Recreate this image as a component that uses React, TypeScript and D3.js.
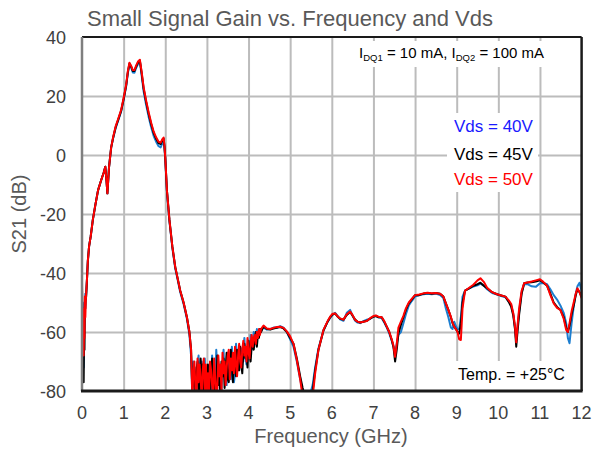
import React, { useEffect, useRef } from "react";
import * as d3 from "d3";

const WIDTH = 593;
const HEIGHT = 453;

const TITLE = "Small Signal Gain vs. Frequency and Vds";
const X_LABEL = "Frequency (GHz)";
const Y_LABEL = "S21 (dB)";
const xTickValues = [0, 1, 2, 3, 4, 5, 6, 7, 8, 9, 10, 11, 12];
const yTickValues = [40, 20, 0, -20, -40, -60, -80];

const legendLabels = ["Vds = 40V", "Vds = 45V", "Vds = 50V"];
const tempLabel = "Temp. = +25°C";

// Frequency grid shared by all three sweeps (GHz)
const freqGHz = [
  // DC region
  0, 0.01, 0.02, 0.03, 0.04, 0.05, 0.06, 0.07, 0.08, 0.09, 0.1, 0.12,
  // passband
  0.14, 0.17, 0.21, 0.26, 0.32, 0.385, 0.45, 0.52, 0.56, 0.59,
  0.61, 0.65, 0.7, 0.75, 0.81, 0.87, 0.94, 1.0, 1.06, 1.1,
  1.14, 1.18, 1.22, 1.26, 1.3, 1.35, 1.39, 1.43, 1.48, 1.54,
  1.6, 1.66, 1.72, 1.78, 1.84, 1.89, 1.93, 1.96, 1.98, 2.0,
  2.04, 2.1, 2.17, 2.24, 2.3, 2.36, 2.44, 2.52, 2.58, 2.62,
  // noise floor
  2.65, 2.675, 2.7, 2.725, 2.75, 2.775, 2.8, 2.825, 2.85, 2.875, 2.9, 2.925, 2.95, 2.975, 3.0,
  3.025, 3.05, 3.075, 3.1, 3.125, 3.15, 3.175, 3.2, 3.225, 3.25, 3.275, 3.3, 3.325, 3.35, 3.375,
  3.4, 3.425, 3.45, 3.475, 3.5, 3.525, 3.55, 3.575, 3.6, 3.625, 3.65, 3.675, 3.7, 3.725, 3.75,
  3.775, 3.8, 3.825, 3.85, 3.875, 3.9, 3.925, 3.95, 3.975, 4.0, 4.025, 4.05, 4.075, 4.1, 4.125,
  4.15, 4.175, 4.2, 4.225, 4.25, 4.275, 4.3,
  // stopband
  4.36, 4.44, 4.52, 4.6, 4.68, 4.76, 4.84, 4.92, 5.0, 5.08,
  5.16, 5.24, 5.3, 5.36, 5.42, 5.48, 5.54, 5.6, 5.68, 5.8,
  5.9, 5.96, 6.02, 6.08, 6.14, 6.2, 6.28, 6.36, 6.44, 6.5,
  6.56, 6.62, 6.68, 6.76, 6.84, 6.92, 7.0, 7.06, 7.12, 7.2,
  7.26, 7.32, 7.38, 7.44, 7.48, 7.52, 7.56, 7.6, 7.66, 7.72,
  7.78, 7.85, 7.92, 8.0, 8.1, 8.2, 8.3, 8.4, 8.5, 8.6,
  8.68, 8.74, 8.8, 8.86, 8.9, 8.94, 8.98, 9.02, 9.06, 9.1,
  9.14, 9.2, 9.3, 9.4, 9.5, 9.57, 9.65, 9.73, 9.85, 9.97,
  10.07, 10.17, 10.25, 10.31, 10.36, 10.4, 10.43, 10.46, 10.5, 10.56,
  10.62, 10.7, 10.8, 10.9, 11.0, 11.08, 11.17, 11.25, 11.33, 11.41,
  11.49, 11.57, 11.63, 11.67, 11.71, 11.76, 11.81, 11.86, 11.9, 11.95,
  12.0,
];

// S21 (dB), Vds = 40 V
const s21Vds40 = [
  -44, -58, -50, -66, -72, -60, -56, -50, -47, -49, -47, -42,
  -36, -31, -27.5, -22, -17, -12, -9, -6, -4, -9,
  -13, -4, 2.5, 5.8, 9.2, 11.7, 14.7, 18.7, 23.2, 27.6,
  30.6, 29.6, 28, 27.9, 29.5, 31, 31.6, 27.3, 21.6, 17,
  13, 9.5, 6.5, 4.5, 3, 2.6, 4, 4.7, 2.5, -1.5,
  -12.5, -22.5, -31.5, -38.5, -42.5, -46.5, -50.5, -55.5, -61, -68,
  -82, -70, -78, -80, -72, -71, -68, -80, -82, -70, -76, -75, -69, -82, -72,
  -82, -80, -71, -82, -68, -74, -78, -79, -66, -73, -70, -77, -82, -80, -72,
  -66, -75, -73, -78, -67, -69, -74, -76, -65, -71, -77, -74, -64, -70, -67,
  -72, -65, -66, -69, -70, -62, -68, -71, -67, -64, -69, -61, -66, -63, -60,
  -63, -64, -59, -62, -60, -59, -59,
  -58.5, -59.2, -59, -58.5, -58.5, -58, -58.5, -60, -62.5, -65,
  -70, -76, -80, -82, -82, -81, -78, -72, -65.5, -59.5,
  -56.5, -55.2, -54.2, -53.5, -54.5, -55.7, -56.2, -53.5, -52.5, -54.5,
  -56.2, -56.8, -57, -56.3, -55.8, -55.5, -54.8, -54.5, -55, -55.3,
  -56.8, -58.5, -60.5, -63, -65, -67, -64, -61, -60, -57,
  -54, -51, -49.5, -48, -47.5, -47.2, -47, -47.2, -47, -47.5,
  -48.5, -52, -55, -58.5, -59, -56.5, -58, -59, -59, -55,
  -48, -46, -45.2, -44.6, -44.2, -43.6, -44.3, -45.5, -46.8, -47.3,
  -47.8, -48.2, -49.6, -51, -54, -58.5, -63, -58.5, -53, -46.5,
  -43.8, -43.8, -44.5, -44.7, -43.5, -43.4, -43.8, -45.5, -47.5, -49,
  -51, -53.5, -57, -62, -63.8, -57, -51.4, -47, -44.5, -43.3,
  -46,
];

// S21 (dB), Vds = 45 V
const s21Vds45 = [
  -45, -60, -52, -70, -77, -62, -66, -50, -52, -49, -48, -42,
  -36, -31, -27.5, -22, -17, -12, -9, -6, -4, -9,
  -13, -4, 2.5, 6, 9.5, 12, 15, 19, 23.5, 28,
  31, 30, 28.5, 28.5, 30, 31.5, 32, 28, 22.5, 18,
  14, 10.5, 7.5, 5.5, 4, 3.7, 5, 5.6, 3, -1,
  -12, -22, -31, -38, -42, -46, -50, -55, -60, -66,
  -80, -76, -72, -82, -74, -70, -82, -79, -69, -78, -71, -82, -72, -77, -82,
  -71, -78, -82, -75, -69, -77, -74, -82, -80, -68, -78, -73, -82, -70, -75,
  -69, -79, -72, -67, -76, -77, -70, -66, -72, -77, -68, -71, -75, -66, -73,
  -73, -65, -71, -74, -67, -64, -69, -66, -72, -63, -68, -70, -65, -62, -66,
  -63, -60, -65, -61, -62, -59, -60,
  -58.2, -59, -59.2, -58.8, -58.6, -58.3, -58.8, -60, -62, -64,
  -69, -75, -79, -82, -82, -82, -80, -73, -66, -59.5,
  -56.5, -55, -54, -53.8, -54.8, -55.5, -55.8, -54.2, -53.2, -54.5,
  -55.8, -56.5, -56.8, -56.5, -56.2, -55.5, -54.8, -54.6, -55, -55,
  -56.5, -58.2, -60, -62.7, -65, -70, -66, -60.5, -57.5, -55,
  -52.5, -50.3, -49, -47.5, -47.5, -47, -46.8, -47, -46.8, -47,
  -48, -50.3, -52.5, -55, -57, -58.2, -59, -60, -60.5, -57,
  -50, -46, -45.2, -44.3, -43.8, -43.3, -44.3, -45.2, -46.5, -47.2,
  -47.6, -48, -49.8, -51.5, -54.5, -59, -65, -60, -54, -47,
  -43.5, -43.2, -43.1, -42.9, -42.5, -43.2, -44.3, -47, -50, -51.5,
  -52.5, -55, -58.5, -60, -58, -54, -51, -47.5, -45.5, -46.5,
  -48,
];

// S21 (dB), Vds = 50 V
const s21Vds50 = [
  -43, -55, -65, -52, -68, -58, -62, -48, -55, -50, -47, -42,
  -36, -31, -27.5, -22, -17, -12, -9, -6, -4, -9,
  -13, -4, 2.5, 6.2, 9.8, 12.3, 15.3, 19.3, 23.8, 28.3,
  31.3, 30.2, 28.8, 28.8, 30.3, 31.8, 32.3, 28.5, 23, 18.5,
  14.5, 11, 8, 6, 4.5, 4.2, 5.4, 5.9, 3.3, -0.8,
  -12, -22, -31, -38, -42, -46, -50, -55, -60, -66,
  -82, -74, -70, -79, -82, -69, -77, -71, -76, -82, -73, -69, -80, -71, -82,
  -74, -82, -70, -73, -78, -81, -69, -76, -82, -79, -68, -75, -71, -80, -67,
  -74, -70, -78, -72, -68, -66, -76, -69, -73, -67, -74, -65, -71, -75, -68,
  -64, -70, -72, -66, -63, -68, -65, -70, -62, -67, -69, -64, -61, -65, -62,
  -61, -64, -60, -62, -59, -61, -59,
  -57.8, -58.8, -59, -58.6, -58.3, -58.2, -58.6, -59.8, -61.5, -64,
  -69.5, -76, -82, -82, -82, -82, -82, -74, -66, -59.3,
  -56.3, -54.8, -53.8, -53.7, -54.7, -55.4, -55.8, -54, -53.1, -54.3,
  -55.9, -56.5, -56.8, -56.5, -56.3, -55.3, -54.6, -54.4, -54.8, -55,
  -56.3, -58.2, -60, -62.5, -64.5, -68.4, -64, -58.5, -56.5, -54.5,
  -52, -50, -48.8, -47.5, -47.3, -46.9, -46.7, -46.9, -46.8, -47,
  -48, -50.3, -52.5, -54.8, -56.8, -58.2, -59, -60, -62.5, -62.7,
  -52, -46, -45, -44, -42.5, -41.8, -43, -45, -46.5, -47.2,
  -47.6, -48, -49.3, -50.5, -53.7, -58, -63.5, -58, -52, -46,
  -43.5, -43.2, -42.9, -42.5, -42.1, -43, -44.3, -47.5, -50.3, -51.8,
  -52.5, -55.5, -59.3, -60, -57, -53, -50, -47, -45.2, -46.5,
  -48.5,
];

const seriesValues = [s21Vds40, s21Vds45, s21Vds50];
const seriesColors = ["#1c7ed0", "#000000", "#ff0000"];
const legendColors = ["#1a1aff", "#000000", "#ff0000"];

const FONT = "'Liberation Sans', Arial, Helvetica, sans-serif";

const plot = { left: 82, right: 581.6, top: 37, bottom: 391 };

const xScale = d3.scaleLinear().domain([0, 12]).range([plot.left, plot.right]);
const yScale = d3.scaleLinear().domain([-80, 40]).range([plot.bottom, plot.top]);

export default function App() {
  const gridRef = useRef<SVGGElement | null>(null);

  // grid via d3 axes with full-length ticks
  useEffect(() => {
    if (!gridRef.current) return;
    const g = d3.select(gridRef.current);
    g.selectAll("*").remove();

    const gx = g
      .append("g")
      .attr("transform", `translate(0,${plot.bottom})`)
      .call(
        d3
          .axisBottom(xScale)
          .tickValues(xTickValues.slice(1, -1))
          .tickSize(-(plot.bottom - plot.top))
          .tickFormat(() => "")
      );
    const gy = g
      .append("g")
      .attr("transform", `translate(${plot.left},0)`)
      .call(
        d3
          .axisLeft(yScale)
          .tickValues(yTickValues.slice(1, -1))
          .tickSize(-(plot.right - plot.left))
          .tickFormat(() => "")
      );
    [gx, gy].forEach((a) => {
      a.select(".domain").remove();
      a.selectAll(".tick line").attr("stroke", "#bcbcbc").attr("stroke-width", 2);
    });
  }, []);

  const traceGen = d3
    .line<[number, number]>()
    .x((d) => xScale(d[0]))
    .y((d) => yScale(d[1]));

  const paths = seriesValues.map((vals) =>
    traceGen(d3.zip(freqGHz, vals) as [number, number][])
  );

  return (
    <svg
      width={WIDTH}
      height={HEIGHT}
      style={{ position: "absolute", left: 0, top: 0, background: "#fff" }}
      fontFamily={FONT}
    >
      <defs>
        <clipPath id="plot-clip">
          <rect
            x={plot.left}
            y={plot.top}
            width={plot.right - plot.left}
            height={plot.bottom - plot.top}
          />
        </clipPath>
      </defs>

      {/* title */}
      <text x={87} y={26} fontSize={22} fill="#595959">
        {TITLE}
      </text>

      {/* grid */}
      <g ref={gridRef} />

      {/* text backgrounds over the grid */}
      <rect x={352} y={41} width={205} height={26} fill="#fff" />
      <rect x={447} y={113} width={91} height={79} fill="#fff" />
      <rect x={450} y={361} width={126} height={30} fill="#fff" />

      {/* traces */}
      <g clipPath="url(#plot-clip)" fill="none" strokeWidth={2} strokeLinejoin="round">
        {paths.map((p, i) => (
          <path key={"s" + i} d={p ?? ""} stroke={seriesColors[i]} />
        ))}
      </g>

      {/* frame */}
      <path d={`M${plot.left},${plot.top}H${plot.right}`} stroke="#1a1a1a" strokeWidth={2} />
      <path d={`M${plot.right},${plot.top}V${plot.bottom}`} stroke="#1a1a1a" strokeWidth={2.5} />
      <path d={`M${plot.left},${plot.top}V${plot.bottom}`} stroke="#7f7f7f" strokeWidth={2.5} />
      <path d={`M${plot.left - 1},${plot.bottom}H${plot.right + 1}`} stroke="#1a1a1a" strokeWidth={3} />

      {/* axis tick labels */}
      <g fontSize={18} fill="#404040">
        {yTickValues.map((t) => (
          <text key={"ty" + t} x={66} y={yScale(t) + 6.5} textAnchor="end">
            {t}
          </text>
        ))}
        {xTickValues.map((t) => (
          <text key={"tx" + t} x={xScale(t)} y={419} textAnchor="middle">
            {t}
          </text>
        ))}
      </g>

      {/* axis titles */}
      <text x={331} y={443} fontSize={20} fill="#595959" textAnchor="middle">
        {X_LABEL}
      </text>
      <text
        transform={`translate(26, ${(plot.top + plot.bottom) / 2}) rotate(-90)`}
        fontSize={20}
        fill="#595959"
        textAnchor="middle"
      >
        {Y_LABEL}
      </text>

      {/* bias annotation */}
      <text x={359} y={58} fontSize={15} fill="#000">
        I
        <tspan fontSize={9.5} dy={3}>DQ1</tspan>
        <tspan dy={-3}>{" = 10 mA, I"}</tspan>
        <tspan fontSize={9.5} dy={3}>DQ2</tspan>
        <tspan dy={-3}>{" = 100 mA"}</tspan>
      </text>

      {/* series labels */}
      {legendLabels.map((lbl, i) => (
        <text key={lbl} x={454} y={[132, 160, 185][i]} fontSize={17} fill={legendColors[i]}>
          {lbl}
        </text>
      ))}

      <text x={458} y={380} fontSize={16} fill="#000">
        {tempLabel}
      </text>
    </svg>
  );
}
